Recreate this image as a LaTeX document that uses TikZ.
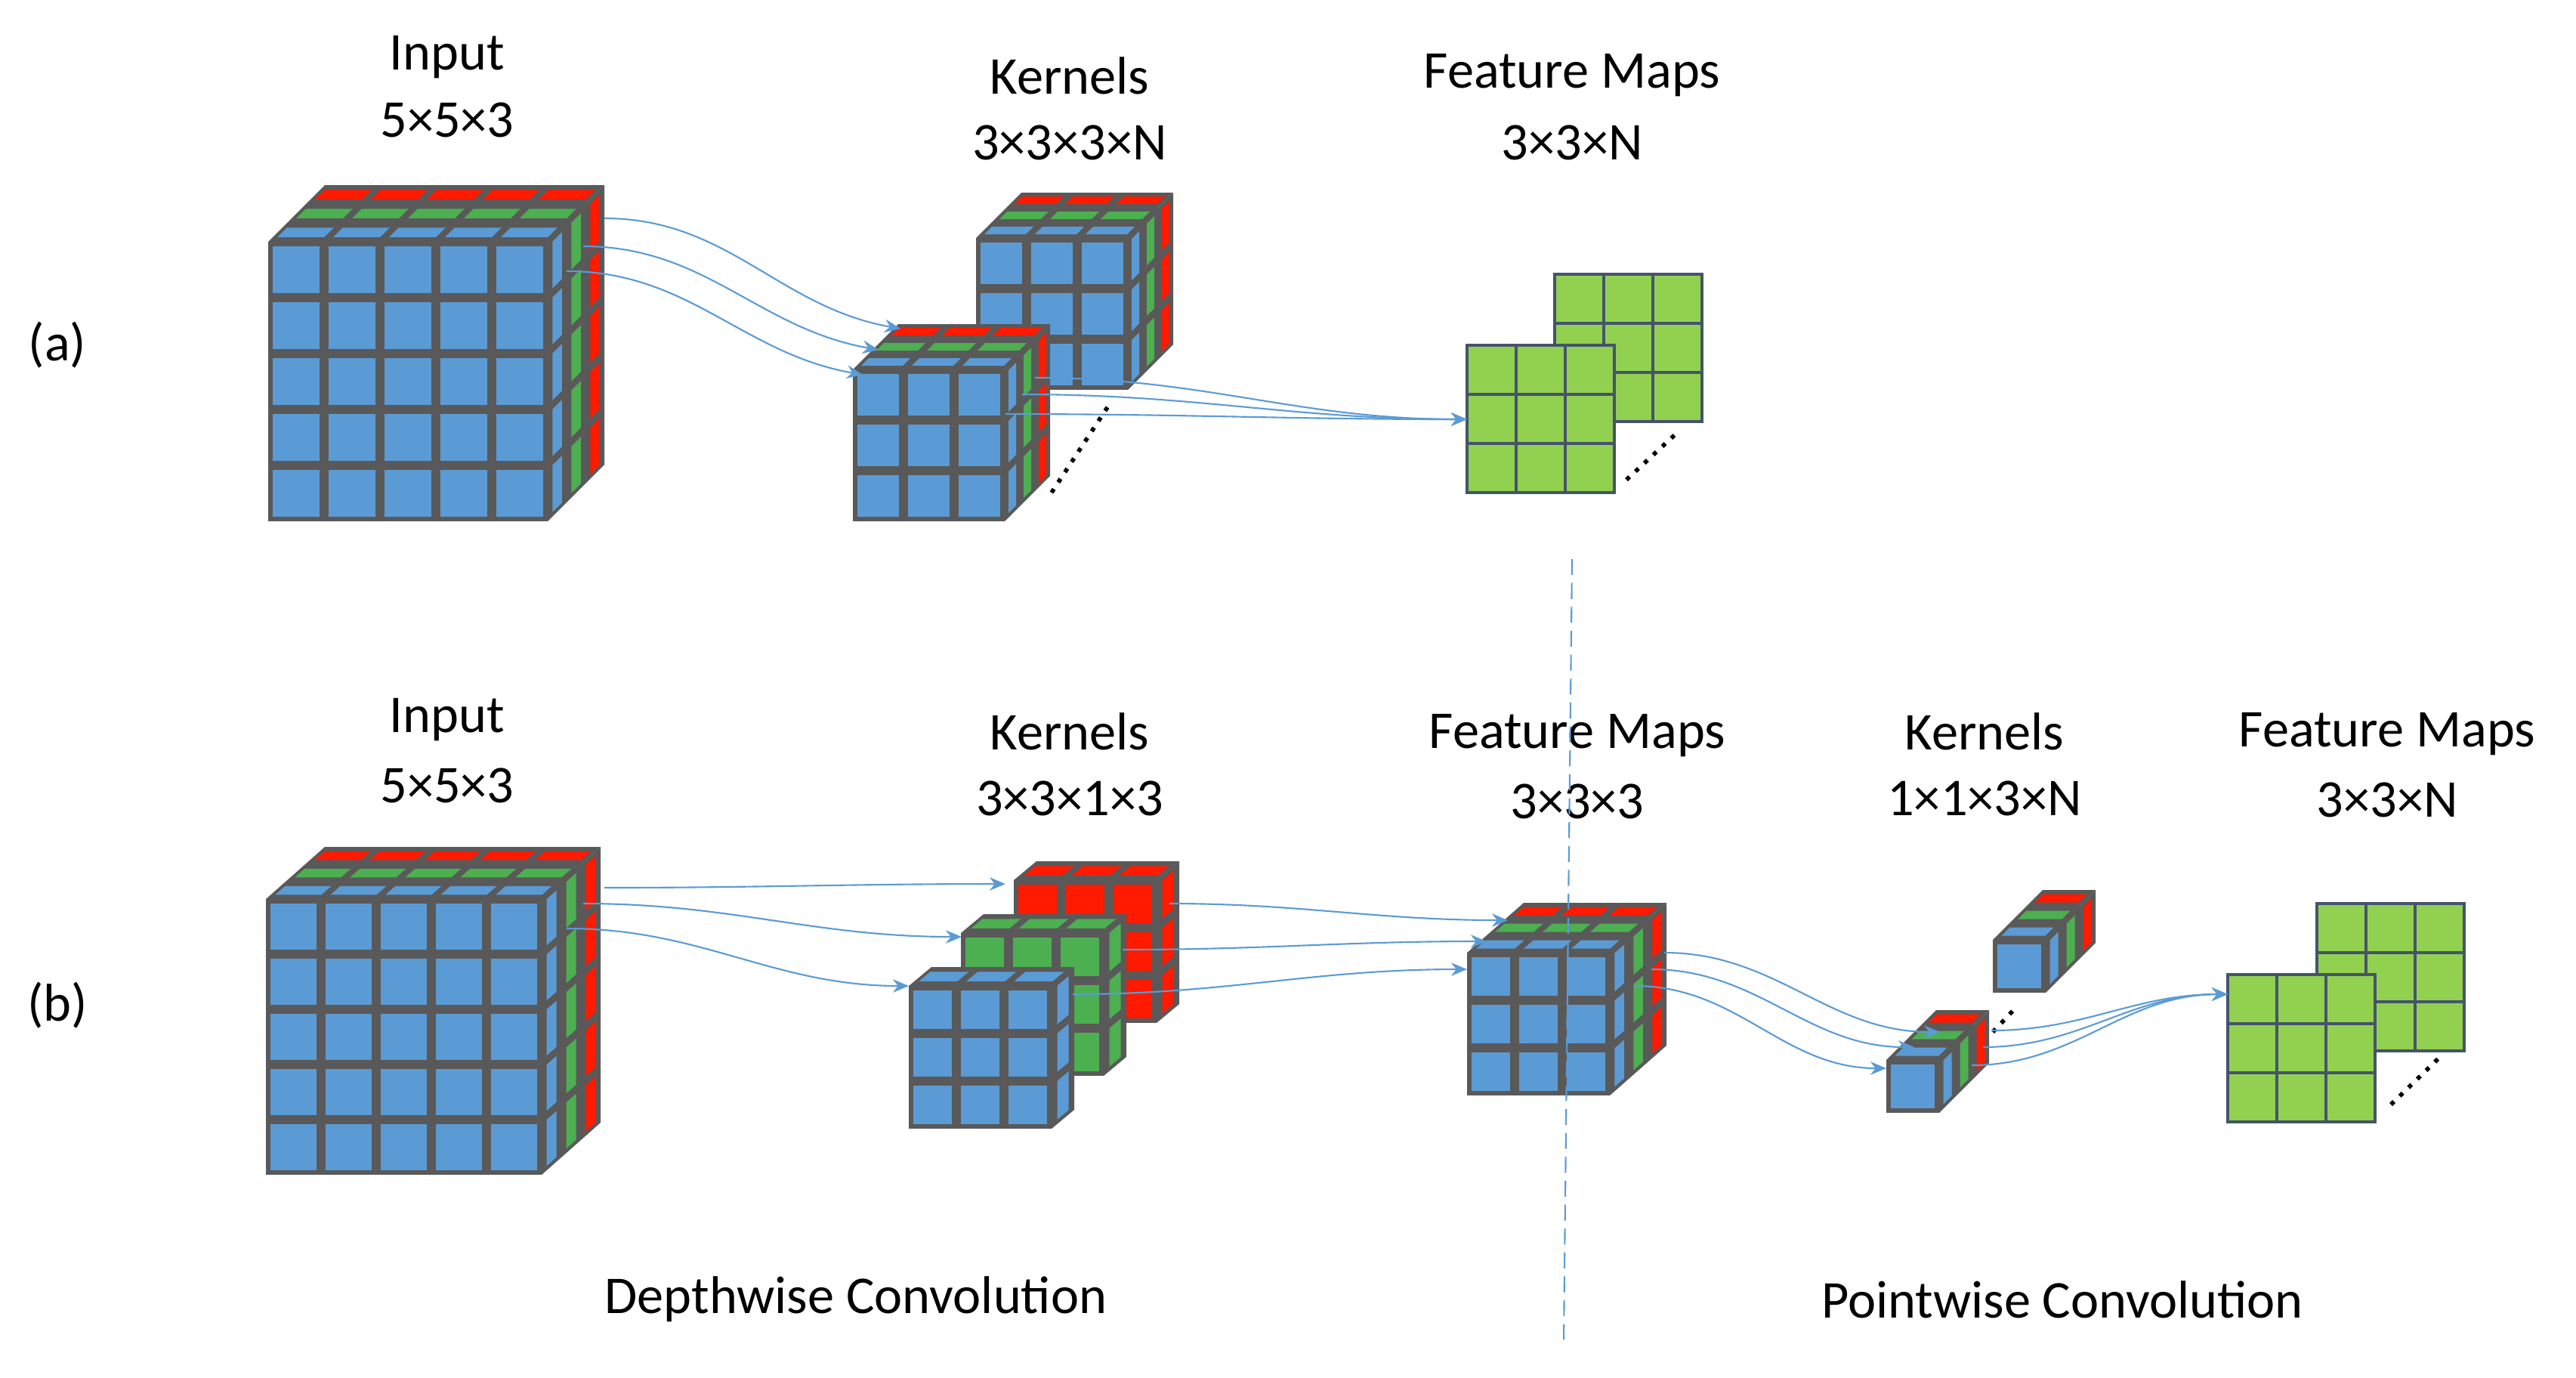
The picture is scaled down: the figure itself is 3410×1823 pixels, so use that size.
\documentclass[tikz,border=0pt]{standalone}
\usepackage{fontspec}
\setmainfont{Carlito}
\usetikzlibrary{arrows.meta}
\definecolor{cB}{HTML}{5B9BD5}
\definecolor{cG}{HTML}{4CAF50}
\definecolor{cR}{HTML}{FF1A00}
\definecolor{cD}{HTML}{595959}
\definecolor{cF}{HTML}{92D050}
\definecolor{cL}{HTML}{44546A}
\newcommand\myslab[7]{% x y n c ox oy color
 \fill[cD] (#1,#2) rectangle ({#1+#3*#4},{#2+#3*#4});
 \fill[cD] (#1,#2) -- ({#1+#5},{#2+#6}) -- ({#1+#3*#4+#5},{#2+#6}) -- ({#1+#3*#4},#2) -- cycle;
 \fill[cD] ({#1+#3*#4},#2) -- ({#1+#3*#4+#5},{#2+#6}) -- ({#1+#3*#4+#5},{#2+#3*#4+#6}) -- ({#1+#3*#4},{#2+#3*#4}) -- cycle;
 \pgfmathtruncatemacro\nn{#3-1}
 \foreach \i in {0,...,\nn}{
   \foreach \j in {0,...,\nn}{
     \fill[#7] ({#1+\i*#4+6},{#2+\j*#4+6}) rectangle ({#1+(\i+1)*#4-6},{#2+(\j+1)*#4-6});}
   \fill[#7] ({#1+\i*#4+6+0.25*#5},{#2+0.25*#6}) -- ({#1+\i*#4+6+0.75*#5},{#2+0.75*#6}) -- ({#1+(\i+1)*#4-6+0.75*#5},{#2+0.75*#6}) -- ({#1+(\i+1)*#4-6+0.25*#5},{#2+0.25*#6}) -- cycle;
   \fill[#7] ({#1+#3*#4+0.25*#5},{#2+\i*#4+6+0.25*#6}) -- ({#1+#3*#4+0.75*#5},{#2+\i*#4+6+0.75*#6}) -- ({#1+#3*#4+0.75*#5},{#2+(\i+1)*#4-6+0.75*#6}) -- ({#1+#3*#4+0.25*#5},{#2+(\i+1)*#4-6+0.25*#6}) -- cycle;
 }}
\newcommand\mycuboid[7]{% x y n c ox oy list k/color
 \foreach \k/\cc in {#7}{\myslab{#1+\k*#5}{#2+\k*#6}{#3}{#4}{#5}{#6}{\cc}}}
\newcommand\myfmap[3]{% x y c
 \fill[cF] (#1,#2) rectangle ({#1+3*#3},{#2+3*#3});
 \foreach \i in {1,2}{\draw[cL,line width=0.9pt] ({#1+\i*#3},#2) -- ({#1+\i*#3},{#2+3*#3});
   \draw[cL,line width=0.9pt] (#1,{#2+\i*#3}) -- ({#1+3*#3},{#2+\i*#3});}
 \draw[cL,line width=0.9pt] (#1,#2) rectangle ({#1+3*#3},{#2+3*#3});}
\tikzset{lbl/.style={font=\fontsize{20}{24}\selectfont,align=center},
 con/.style={draw=cB,line width=0.6pt,-{Stealth[length=6pt,width=5pt]}},
 dots/.style={black,line width=1.6pt,dash pattern=on 1.6pt off 3pt}}
\begin{document}
\begin{tikzpicture}[x=0.01cm,y=-0.01cm]
\useasboundingbox (0,0) rectangle (3410,1823);
% ---------- (a)
\mycuboid{355}{320}{5}{74}{25}{-25}{2/cR,1/cG,0/cB}
\mycuboid{1292}{315}{3}{67}{20}{-20}{2/cR,1/cG,0/cB}
\draw[dots] (1392,652) -- (1470,533);
\mycuboid{1129}{489}{3}{67}{20}{-20}{2/cR,1/cG,0/cB}
\myfmap{2058}{363}{65}
\myfmap{1942}{457}{65}
\draw[dots] (2153,635) -- (2223,570);
\node[lbl] (ta1) at (592,76) {Input};
\node[lbl] (ta2) at (592,159) {5×5×3};
\node[lbl] (ta3) at (1416,100) {Kernels};
\node[lbl] (ta4) at (1416,189) {3×3×3×N};
\node[lbl] (ta5) at (2081,100) {Feature Maps};
\node[lbl] (ta6) at (2081,189) {3×3×N};
\node[lbl] (la) at (76,457) {(a)};
\coordinate (a1s) at (800,289); \coordinate (a1e) at (1192,435);
\coordinate (a2s) at (772,326); \coordinate (a2e) at (1163,463);
\coordinate (a3s) at (750,359); \coordinate (a3e) at (1142,496);
\draw[con] (a1s) to[out=0,in=170] (a1e);
\draw[con] (a2s) to[out=0,in=170] (a2e);
\draw[con] (a3s) to[out=0,in=170] (a3e);
\coordinate (a4s) at (1370,500); \coordinate (a5s) at (1353,522); \coordinate (a6s) at (1331,548);
\coordinate (a4e) at (1942,555);
\draw[con] (a4s) to[out=0,in=180] (a4e);
\draw[con] (a5s) to[out=0,in=180] (a4e);
\draw[con] (a6s) to[out=0,in=180] (a4e);
% ---------- (b)
\mycuboid{352}{1190}{5}{73}{26}{-23}{2/cR,1/cG,0/cB}
\myslab{1342}{1165}{3}{63}{30}{-25}{cR}
\myslab{1272}{1235}{3}{63}{30}{-25}{cG}
\myslab{1203}{1305}{3}{63}{30}{-25}{cB}
\mycuboid{1942}{1261}{3}{63}{25}{-22}{2/cR,1/cG,0/cB}
\mycuboid{2638}{1244}{1}{70}{22}{-22}{2/cR,1/cG,0/cB}
\draw[dots] (2638,1366) -- (2671,1331);
\mycuboid{2497}{1403}{1}{70}{22}{-22}{2/cR,1/cG,0/cB}
\myfmap{3067}{1196}{65}
\myfmap{2949}{1290}{65}
\draw[dots] (3165,1462) -- (3230,1399);
\node[lbl] (tb1) at (592,953) {Input};
\node[lbl] (tb2) at (592,1040) {5×5×3};
\node[lbl] (tb3) at (1416,968) {Kernels};
\node[lbl] (tb4) at (1416,1057) {3×3×1×3};
\node[lbl] (tb5) at (2088,974) {Feature Maps};
\node[lbl] (tb6) at (2088,1061) {3×3×3};
\node[lbl] (tb7) at (2627,968) {Kernels};
\node[lbl] (tb8) at (2627,1057) {1×1×3×N};
\node[lbl] (tb9) at (3160,972) {Feature Maps};
\node[lbl] (tb10) at (3160,1059) {3×3×N};
\node[lbl] (lb) at (76,1331) {(b)};
\node[lbl] (dw) at (1133,1720) {Depthwise Convolution};
\node[lbl] (pw) at (2730,1720) {Pointwise Convolution};
\coordinate (v1) at (2081,740); \coordinate (v2) at (2070,1773);
\draw[cB,line width=0.6pt,dash pattern=on 6pt off 3pt] (v1) -- (v2);
\coordinate (b1s) at (800,1175); \coordinate (b1e) at (1331,1170);
\coordinate (b2s) at (772,1196); \coordinate (b2e) at (1273,1240);
\coordinate (b3s) at (750,1229); \coordinate (b3e) at (1203,1305);
\draw[con] (b1s) to[out=0,in=180] (b1e);
\draw[con] (b2s) to[out=0,in=180] (b2e);
\draw[con] (b3s) to[out=0,in=180] (b3e);
\coordinate (b4s) at (1548,1196); \coordinate (b4e) at (1996,1218);
\coordinate (b5s) at (1486,1257); \coordinate (b5e) at (1968,1246);
\coordinate (b6s) at (1420,1316); \coordinate (b6e) at (1942,1283);
\draw[con] (b4s) to[out=0,in=180] (b4e);
\draw[con] (b5s) to[out=0,in=180] (b5e);
\draw[con] (b6s) to[out=0,in=180] (b6e);
\coordinate (b7s) at (2203,1261); \coordinate (b7e) at (2568,1366);
\coordinate (b8s) at (2186,1283); \coordinate (b8e) at (2534,1386);
\coordinate (b9s) at (2164,1305); \coordinate (b9e) at (2497,1414);
\draw[con] (b7s) to[out=0,in=180] (b7e);
\draw[con] (b8s) to[out=0,in=180] (b8e);
\draw[con] (b9s) to[out=0,in=180] (b9e);
\coordinate (c1s) at (2636,1364); \coordinate (c2s) at (2625,1386); \coordinate (c3s) at (2610,1410);
\coordinate (ce) at (2949,1316);
\draw[con] (c1s) to[out=0,in=180] (ce);
\draw[con] (c2s) to[out=0,in=180] (ce);
\draw[con] (c3s) to[out=0,in=180] (ce);
\end{tikzpicture}
\end{document}
